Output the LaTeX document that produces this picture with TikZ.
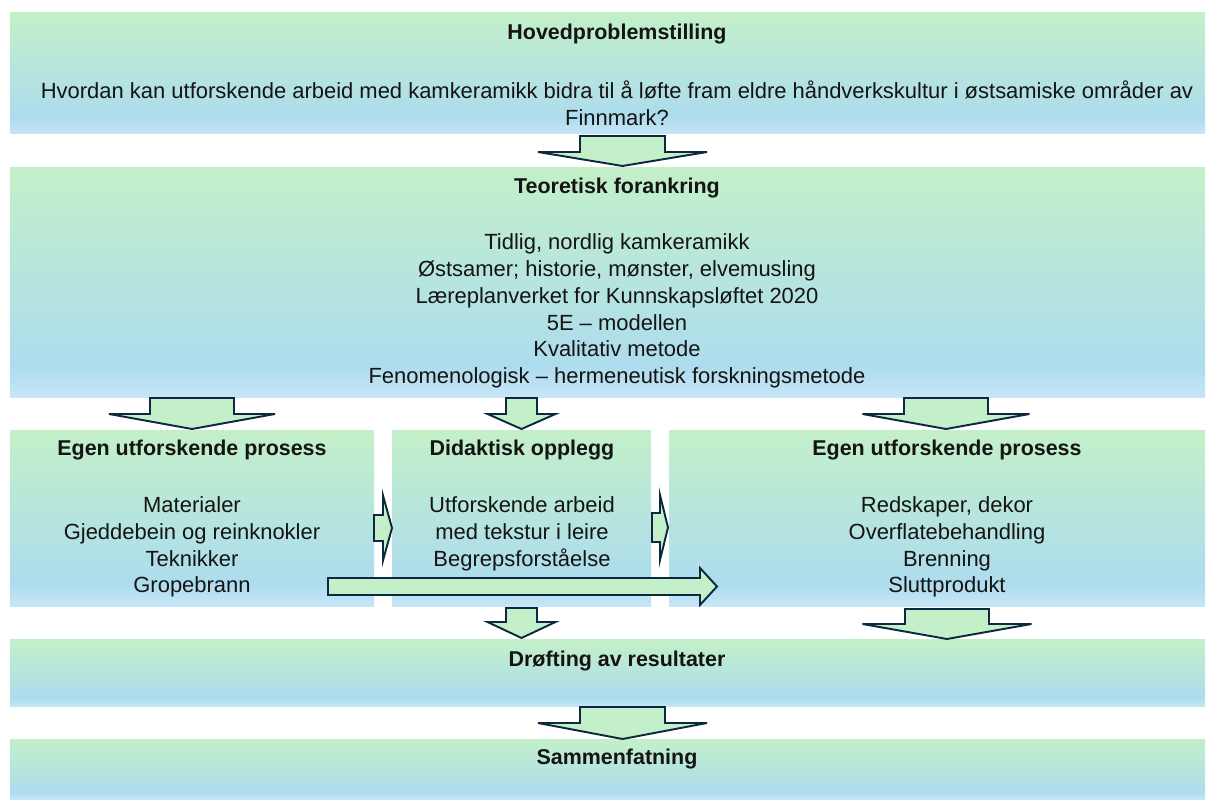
\documentclass[tikz,border=0pt]{standalone}
\usepackage{fontspec}
\setmainfont{Liberation Sans}
\usepackage{tikz}
\usetikzlibrary{positioning}

\definecolor{boxgreen}{HTML}{C3F0C8}
\definecolor{boxblue}{HTML}{ADDCEE}
\definecolor{boxpale}{HTML}{C8E6F7}
\definecolor{arrowline}{HTML}{0E2841}
\definecolor{txt}{HTML}{141414}

\pgfdeclareverticalshading{boxshade}{100bp}{color(0bp)=(boxpale); color(25bp)=(boxpale); color(32bp)=(boxblue); color(75bp)=(boxgreen); color(100bp)=(boxgreen)}

% down arrow: x, top, shoulder, tip, half shaft, half head
\newcommand{\downblock}[6]{%
  \draw[blockarrow] (#1-#5,#2) -- (#1+#5,#2) -- (#1+#5,#3) -- (#1+#6,#3) -- (#1,#4)
    -- (#1-#6,#3) -- (#1-#5,#3) -- cycle;}

% right arrow: left, y, shoulder, tip, half shaft, half head
\newcommand{\rightblock}[6]{%
  \draw[blockarrow] (#1,#2-#5) -- (#3,#2-#5) -- (#3,#2-#6) -- (#4,#2) -- (#3,#2+#6)
    -- (#3,#2+#5) -- (#1,#2+#5) -- cycle;}

\begin{document}
\begin{tikzpicture}[x=0.02cm, y=-0.02cm,
  box/.style={shading=boxshade},
  title/.style={font=\fontsize{12.2}{15.3}\selectfont\bfseries, text=txt, inner sep=0pt},
  body/.style={font=\fontsize{12.5}{15.3}\selectfont, text=txt, align=center, inner sep=0pt},
  blockarrow/.style={draw=arrowline, fill=boxgreen, line width=1.1pt, line join=miter}]

  \useasboundingbox (0,0) rectangle (1215,800);

  \shade[box] (10,13) rectangle (1205,134);

  \shade[box] (10,168) rectangle (1205,398);

  \shade[box] (10,431) rectangle (374,607);
  \shade[box] (392,431) rectangle (651,607);
  \shade[box] (669,431) rectangle (1205,607);

  \shade[box] (10,640) rectangle (1205,707);

  \shade[box] (10,740) rectangle (1205,800);

  \node[title] (hoved) at (617,34.5) {Hovedproblemstilling};
  \node[body] (sporsmal) at (617,103.5) {Hvordan kan utforskende arbeid med kamkeramikk bidra til å løfte fram eldre håndverkskultur i østsamiske områder av\\Finnmark?};

  \node[title] (teori) at (617,188.5) {Teoretisk forankring};
  \node[body] (teoriliste) at (617,311) {Tidlig, nordlig kamkeramikk\\Østsamer; historie, mønster, elvemusling\\Læreplanverket for Kunnskapsløftet 2020\\5E -- modellen\\Kvalitativ metode\\Fenomenologisk -- hermeneutisk forskningsmetode};

  \node[title] (egen1) at (192,450.5) {Egen utforskende prosess};
  \node[body] (egen1liste) at (192,547) {Materialer\\Gjeddebein og reinknokler\\Teknikker\\Gropebrann};

  \node[title] (didaktisk) at (522,450.5) {Didaktisk opplegg};
  \node[body] (didaktiskliste) at (522,533.5) {Utforskende arbeid\\med tekstur i leire\\Begrepsforståelse};

  \node[title] (egen2) at (947,450.5) {Egen utforskende prosess};
  \node[body] (egen2liste) at (947,547) {Redskaper, dekor\\Overflatebehandling\\Brenning\\Sluttprodukt};

  \node[title] (drofting) at (617,661.5) {Drøfting av resultater};

  \node[title] (sammen) at (617,759.5) {Sammenfatning};

  \downblock{622.5}{136}{152}{166}{42.5}{84.5}

  \downblock{192}{398}{414}{429}{42}{83}
  \downblock{521.5}{398}{414}{429}{15.5}{34}
  \downblock{946}{398}{414}{429}{42}{83.5}

  \rightblock{374}{528}{383}{392}{13}{32.5}
  \rightblock{652}{527.5}{660}{668}{14.5}{32.5}

  \rightblock{328}{586.5}{700}{717}{8.5}{18.5}

  \downblock{521.5}{608}{622}{638}{15.5}{34}
  \downblock{947}{609}{624}{639}{42}{84.5}

  \downblock{622.5}{707}{723}{739}{42.5}{84.5}

\end{tikzpicture}
\end{document}
